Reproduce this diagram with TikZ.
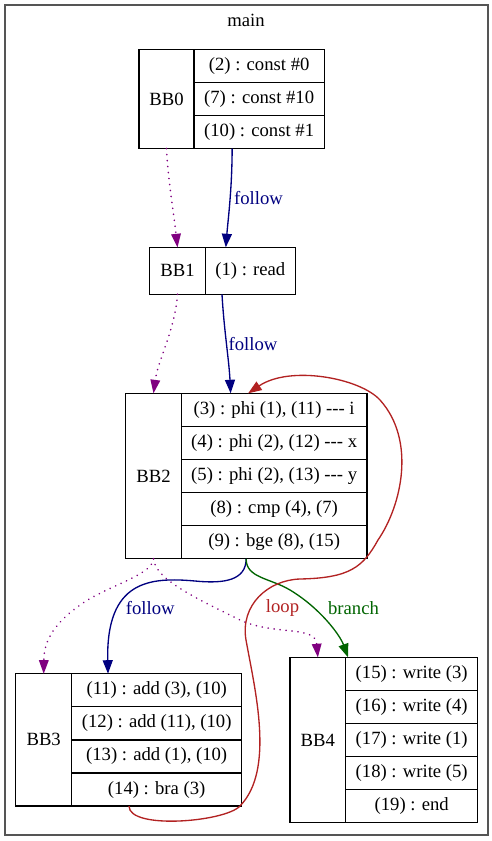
\documentclass[tikz,border=0pt]{standalone}
\usepackage{fontspec}
\setmainfont{Liberation Serif}
\usetikzlibrary{arrows.meta}
\definecolor{edgenavy}{HTML}{000080}
\definecolor{edgepurple}{HTML}{800080}
\definecolor{edgered}{HTML}{B22222}
\definecolor{edgegreen}{HTML}{006400}
\definecolor{clustergray}{HTML}{555555}
\begin{document}
\begin{tikzpicture}[x=1pt,y=-1pt,
  every node/.style={font=\fontsize{18.67}{22}\selectfont},
  cell/.style={draw=black, line width=1.33pt, anchor=north west, inner sep=0pt, outer sep=0pt},
  conn/.style={line width=1.33pt, -{Triangle[length=13.5pt,width=10pt]}},
  followedge/.style={conn, draw=edgenavy},
  seqedge/.style={conn, draw=edgepurple, line width=1.8pt, line cap=round, dash pattern=on 0.01pt off 6pt, -{Triangle[length=13.5pt,width=10pt,line width=0pt]}},
  loopedge/.style={conn, draw=edgered},
  branchedge/.style={conn, draw=edgegreen},
  elabel/.style={inner sep=0pt}
]
\useasboundingbox (0,0) rectangle (492,841);
\draw[clustergray, line width=2pt] (4.7,5.3) rectangle (488.3,835.3);
\node[inner sep=0pt] (title) at (246,20) {main};

% BB0
\node[cell, minimum width=55pt, minimum height=99.3pt] (bb0l) at (139,49.3) {BB0};
\node[cell, minimum width=130.3pt, minimum height=33.1pt] (bb0a) at (194,49.3) {(2) : const \#0};
\node[cell, minimum width=130.3pt, minimum height=33.1pt] (bb0b) at (194,82.4) {(7) : const \#10};
\node[cell, minimum width=130.3pt, minimum height=33.1pt] (bb0c) at (194,115.5) {(10) : const \#1};

% BB1
\node[cell, minimum width=55.6pt, minimum height=47pt] (bb1l) at (149.7,247.3) {BB1};
\node[cell, minimum width=90pt, minimum height=47pt] (bb1c) at (205.3,247.3) {(1) : read};

% BB2
\node[cell, minimum width=55.6pt, minimum height=165.5pt] (bb2l) at (125.7,393.3) {BB2};
\node[cell, minimum width=185.7pt, minimum height=33.1pt] (bb2a) at (181.3,393.3) {(3) : phi (1), (11) -{}-{}- i};
\node[cell, minimum width=185.7pt, minimum height=33.1pt] (bb2b) at (181.3,426.4) {(4) : phi (2), (12) -{}-{}- x};
\node[cell, minimum width=185.7pt, minimum height=33.1pt] (bb2c) at (181.3,459.5) {(5) : phi (2), (13) -{}-{}- y};
\node[cell, minimum width=185.7pt, minimum height=33.1pt] (bb2d) at (181.3,492.6) {(8) : cmp (4), (7)};
\node[cell, minimum width=185.7pt, minimum height=33.1pt] (bb2e) at (181.3,525.7) {(9) : bge (8), (15)};

% BB3
\node[cell, minimum width=56pt, minimum height=132.4pt] (bb3l) at (15.7,673.7) {BB3};
\node[cell, minimum width=170pt, minimum height=33.1pt] (bb3a) at (71.7,673.7) {(11) : add (3), (10)};
\node[cell, minimum width=170pt, minimum height=33.1pt] (bb3b) at (71.7,706.8) {(12) : add (11), (10)};
\node[cell, minimum width=170pt, minimum height=33.1pt] (bb3c) at (71.7,739.9) {(13) : add (1), (10)};
\node[cell, minimum width=170pt, minimum height=33.1pt] (bb3d) at (71.7,773.0) {(14) : bra (3)};

% BB4
\node[cell, minimum width=55.7pt, minimum height=165.5pt] (bb4l) at (290,657.3) {BB4};
\node[cell, minimum width=132pt, minimum height=33.1pt] (bb4a) at (345.7,657.3) {(15) : write (3)};
\node[cell, minimum width=132pt, minimum height=33.1pt] (bb4b) at (345.7,690.4) {(16) : write (4)};
\node[cell, minimum width=132pt, minimum height=33.1pt] (bb4c) at (345.7,723.5) {(17) : write (1)};
\node[cell, minimum width=132pt, minimum height=33.1pt] (bb4d) at (345.7,756.6) {(18) : write (5)};
\node[cell, minimum width=132pt, minimum height=33.1pt] (bb4e) at (345.7,789.7) {(19) : end};

% edges BB0 -> BB1
\draw[seqedge] (bb0l.south) .. controls (168,180) and (174,215) .. (bb1l.north);
\draw[followedge] ([xshift=-27pt]bb0c.south) .. controls (232,190) and (228,220) .. ([xshift=-24.5pt]bb1c.north);
\node[elabel, text=edgenavy] (lf1) at (258.5,198) {follow};

% edges BB1 -> BB2
\draw[seqedge] (bb1l.south) .. controls (175,330) and (158,360) .. (bb2l.north);
\draw[followedge] ([xshift=-28.3pt]bb1c.south) .. controls (224,330) and (229,360) .. ([xshift=-43.5pt]bb2a.north);
\node[elabel, text=edgenavy] (lf2) at (253,344) {follow};

% edges BB2 -> BB3
\draw[seqedge] (bb2l.south) .. controls (152,575) and (110,585) .. (83,603)
  .. controls (55,622) and (44,640) .. (bb3l.north);
\draw[followedge] ([xshift=-28pt]bb2e.south) .. controls (246,580) and (225,584) .. (195,581)
  .. controls (150,577) and (106,580) .. ([xshift=-48.7pt]bb3a.north);
\node[elabel, text=edgenavy] (lf3) at (150.3,608) {follow};

% edges BB2 -> BB4
\draw[seqedge] (bb2l.south) .. controls (155,580) and (200,600) .. (240,620)
  .. controls (275,636) and (315,625) .. (bb4l.north);
\draw[branchedge] ([xshift=-28pt]bb2e.south) .. controls (246,578) and (270,578) .. (290,590)
  .. controls (320,608) and (340,635) .. ([xshift=-63.7pt]bb4a.north);
\node[elabel, text=edgegreen] (lbr) at (353.5,608) {branch};

% loop BB3 -> BB2
\draw[loopedge] ([xshift=-27.7pt]bb3d.south) .. controls (129,830) and (225,822) .. (240,806)
  .. controls (275,770) and (255,690) .. (246,640)
  .. controls (240,605) and (268,580) .. (300,579)
  .. controls (350,578) and (363,567) .. (378,540)
  .. controls (402,505) and (416,440) .. (380,400)
  .. controls (360,378) and (290,365) .. ([xshift=-26pt]bb2a.north);
\node[elabel, text=edgered] (llp) at (282.5,608) {loop};
\end{tikzpicture}
\end{document}
